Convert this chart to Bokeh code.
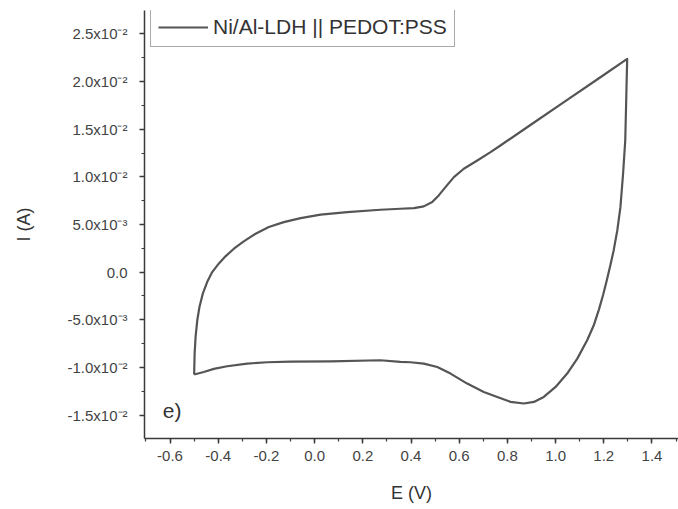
from bokeh.plotting import figure
from bokeh.models import FixedTicker, CustomJSTickFormatter, Legend, LegendItem, Label
from bokeh.embed import file_html
from bokeh.resources import INLINE

# Cyclic voltammogram of the Ni/Al-LDH || PEDOT:PSS cell
# anodic (forward) scan, E in V and I in A
e_forward = [-0.500, -0.498, -0.494, -0.487, -0.478, -0.464, -0.446, -0.425, -0.398, -0.370,
             -0.335, -0.294, -0.245, -0.190, -0.128, -0.058, 0.025, 0.135, 0.273, 0.356,
             0.412, 0.453, 0.488, 0.515, 0.543, 0.578, 0.619, 0.675, 0.730, 0.771,
             0.900, 1.033, 1.186, 1.297]
i_forward = [-0.01074, -0.00854, -0.00680, -0.00505, -0.00366, -0.00225, -0.00104, 0.00001, 0.00089, 0.00166,
             0.00246, 0.00323, 0.00403, 0.00473, 0.00525, 0.00567, 0.00603, 0.00630, 0.00655, 0.00665,
             0.00672, 0.00690, 0.00735, 0.00805, 0.00892, 0.00997, 0.01085, 0.01172, 0.01259, 0.01329,
             0.01552, 0.01781, 0.02045, 0.02237]
# cathodic (reverse) scan
e_reverse = [1.297, 1.293, 1.289, 1.280, 1.269, 1.256, 1.241, 1.227, 1.212, 1.197,
             1.180, 1.158, 1.131, 1.090, 1.048, 1.000, 0.951, 0.910, 0.868, 0.813,
             0.758, 0.702, 0.633, 0.564, 0.509, 0.453, 0.398, 0.356, 0.273, 0.066,
             -0.100, -0.197, -0.280, -0.363, -0.418, -0.460, -0.500]
i_reverse = [0.02237, 0.01800, 0.01381, 0.01032, 0.00682, 0.00438, 0.00228, 0.00070, -0.00090, -0.00240,
             -0.00390, -0.00560, -0.00715, -0.00907, -0.01064, -0.01204, -0.01309, -0.01361, -0.01378, -0.01361,
             -0.01309, -0.01257, -0.01169, -0.01064, -0.00995, -0.00959, -0.00945, -0.00942, -0.00924, -0.00935,
             -0.00938, -0.00945, -0.00959, -0.00987, -0.01015, -0.01047, -0.01074]

series_name = "Ni/Al-LDH || PEDOT:PSS"
panel_tag = "e)"

x_major = [-0.6, -0.4, -0.2, 0.0, 0.2, 0.4, 0.6, 0.8, 1.0, 1.2, 1.4]
x_minor = [round(-0.7 + 0.1 * k, 2) for k in range(23)]
y_major = [-0.015, -0.010, -0.005, 0.0, 0.005, 0.010, 0.015, 0.020, 0.025]
y_minor = [round(-0.0175 + 0.0025 * k, 4) for k in range(19)]

E = e_forward + e_reverse[1:]
I = i_forward + i_reverse[1:]

FONT = "Liberation Sans"
INK = "#3a3a3a"

p = figure(width=678, height=509, output_backend="svg", toolbar_location=None,
           x_range=(-0.706, 1.510), y_range=(-0.01745, 0.02745),
           min_border_left=144, min_border_right=0, min_border_top=10, min_border_bottom=71)
p.outline_line_color = None
p.grid.visible = False
p.background_fill_color = "white"
p.border_fill_color = "white"

line = p.line(E, I, line_color="#555555", line_width=2.2, line_join="round")

# axes
for ax in (p.xaxis[0], p.yaxis[0]):
    ax.axis_line_color = INK
    ax.axis_line_width = 1.5
    ax.major_tick_line_color = INK
    ax.minor_tick_line_color = INK
    ax.major_tick_line_width = 1.5
    ax.minor_tick_line_width = 1.2
    ax.major_tick_out = 5
    ax.major_tick_in = 0
    ax.minor_tick_out = 3
    ax.minor_tick_in = 0
    ax.major_label_text_font = FONT
    ax.major_label_text_font_size = "15px"
    ax.major_label_text_color = "#444444"
    ax.axis_label_text_font = FONT
    ax.axis_label_text_font_size = "18px"
    ax.axis_label_text_font_style = "normal"
    ax.axis_label_text_color = "#333333"

p.xaxis.ticker = FixedTicker(ticks=x_major, minor_ticks=x_minor)
p.yaxis.ticker = FixedTicker(ticks=y_major, minor_ticks=y_minor)
p.xaxis.major_label_overrides = {v: f"{v:.1f}" for v in x_major}
p.xaxis.axis_label = "E (V)"
p.yaxis.axis_label = "I (A)"
p.xaxis.major_label_standoff = 7
p.yaxis.major_label_standoff = 12
p.xaxis.axis_label_standoff = 19
p.yaxis.axis_label_standoff = 30

p.yaxis.formatter = CustomJSTickFormatter(code="""
    if (Math.abs(tick) < 1e-12) return "0.0";
    const e = Math.floor(Math.log10(Math.abs(tick)) + 1e-9);
    const m = tick / Math.pow(10, e);
    const sup = {"-": "\u207b", "0": "\u2070", "1": "\u00b9", "2": "\u00b2", "3": "\u00b3",
                 "4": "\u2074", "5": "\u2075", "6": "\u2076", "7": "\u2077", "8": "\u2078", "9": "\u2079"};
    return m.toFixed(1) + "x10" + String(e).split("").map(c => sup[c]).join("");
""")

# legend in the upper-left corner
legend = Legend(items=[LegendItem(label=series_name, renderers=[line])])
legend.location = (6, 428 - 3 - 34)
legend.margin = 0
legend.padding = 7
legend.spacing = 0
legend.glyph_width = 50
legend.glyph_height = 20
legend.label_height = 20
legend.label_standoff = 5
legend.label_text_font = FONT
legend.label_text_font_size = "21px"
legend.label_text_color = "#333333"
legend.border_line_color = "#555555"
legend.border_line_width = 1
legend.background_fill_alpha = 1.0
p.add_layout(legend)

p.add_layout(Label(x=-0.630, y=-0.01448, text=panel_tag, text_font=FONT,
                   text_font_size="21px", text_color="#333333",
                   text_baseline="middle", text_align="left"))

open("out.html", "w").write(file_html(p, INLINE))
